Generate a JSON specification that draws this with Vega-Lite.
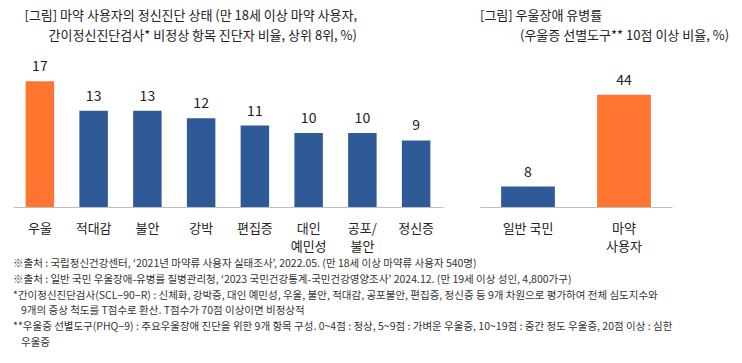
{
  "$schema": "https://vega.github.io/schema/vega-lite/v6.json",
  "padding": {"left": 13, "top": 10, "right": 5, "bottom": 5},
  "background": "#ffffff",
  "config": {
    "font": "Noto Sans CJK KR",
    "view": {"stroke": null},
    "title": {"font": "Noto Sans CJK KR", "fontSize": 13, "fontWeight": "normal", "color": "#222222", "anchor": "start", "lineHeight": 20, "offset": 16},
    "axis": {"labelFont": "Noto Sans CJK KR"}
  },
  "title": {
    "text": [
      "※출처 : 국립정신건강센터, ‘2021년 마약류 사용자 실태조사’, 2022.05. (만 18세 이상 마약류 사용자 540명)",
      "※출처 : 일반 국민 우울장애-유병률 질병관리청, ‘2023 국민건강통계-국민건강영양조사’ 2024.12. (만 19세 이상 성인, 4,800가구)",
      "*간이정신진단검사(SCL−90−R) : 신체화, 강박증, 대인 예민성, 우울, 불안, 적대감, 공포불안, 편집증, 정신증 등 9개 차원으로 평가하여 전체 심도지수와",
      "\u28009개의 증상 척도를 T점수로 환산. T점수가 70점 이상이면 비정상적",
      "**우울증 선별도구(PHQ−9) : 주요우울장애 진단을 위한 9개 항목 구성. 0~4점 : 정상, 5~9점 : 가벼운 우울증, 10~19점 : 중간 정도 우울증, 20점 이상 : 심한",
      "\u2800우울증"
    ],
    "orient": "bottom",
    "anchor": "start",
    "fontSize": 10.5,
    "lineHeight": 15.8,
    "color": "#333333",
    "offset": 6
  },
  "spacing": 37,
  "hconcat": [
    {
      "title": {"text": ["[그림] 마약 사용자의 정신진단 상태 (만 18세 이상 마약 사용자,", "간이정신진단검사* 비정상 항목 진단자 비율, 상위 8위, %)"], "align": "right", "dx": 344},
      "width": 430,
      "height": 148,
      "data": {"values": [
        {"item": "우울", "value": 17, "type": "focus"},
        {"item": "적대감", "value": 13, "type": "other"},
        {"item": "불안", "value": 13, "type": "other"},
        {"item": "강박", "value": 12, "type": "other"},
        {"item": "편집증", "value": 11, "type": "other"},
        {"item": "대인 예민성", "value": 10, "type": "other"},
        {"item": "공포/불안", "value": 10, "type": "other"},
        {"item": "정신증", "value": 9, "type": "other"}
      ]},
      "encoding": {
        "x": {"field": "item", "type": "nominal", "sort": null,
          "scale": {"paddingInner": 0.47, "paddingOuter": 0.235},
          "axis": {"title": null, "labelAngle": 0, "ticks": false, "domainColor": "#BFBFBF", "domainWidth": 1.2,
            "labelFontSize": 13, "labelColor": "#222222", "labelPadding": 15, "labelLineHeight": 18,
            "labelExpr": "datum.label == '대인 예민성' ? ['대인','예민성'] : datum.label == '공포/불안' ? ['공포/','불안'] : datum.label"}},
        "y": {"field": "value", "type": "quantitative", "scale": {"domain": [0, 20]}, "axis": null}
      },
      "layer": [
        {"mark": {"type": "bar"},
         "encoding": {"color": {"field": "type", "type": "nominal", "scale": {"domain": ["focus", "other"], "range": ["#FF7530", "#2E5B97"]}, "legend": null}}},
        {"mark": {"type": "text", "baseline": "bottom", "dy": -7, "fontSize": 14, "color": "#222222"},
         "encoding": {"text": {"field": "value", "type": "quantitative"}}}
      ]
    },
    {
      "title": {"text": ["[그림] 우울장애 유병률", "\u2800\u2800\u2800\u2800(우울증 선별도구** 10점 이상 비율, %)"]},
      "width": 192,
      "height": 148,
      "data": {"values": [
        {"item": "일반 국민", "value": 8, "type": "other"},
        {"item": "마약 사용자", "value": 44, "type": "focus"}
      ]},
      "encoding": {
        "x": {"field": "item", "type": "nominal", "sort": null,
          "scale": {"paddingInner": 0.44, "paddingOuter": 0.22},
          "axis": {"title": null, "labelAngle": 0, "ticks": false, "domainColor": "#BFBFBF", "domainWidth": 1.2,
            "labelFontSize": 13, "labelColor": "#222222", "labelPadding": 15, "labelLineHeight": 18,
            "labelExpr": "datum.label == '마약 사용자' ? ['마약','사용자'] : datum.label"}},
        "y": {"field": "value", "type": "quantitative", "scale": {"domain": [0, 58]}, "axis": null}
      },
      "layer": [
        {"mark": {"type": "bar"},
         "encoding": {"color": {"field": "type", "type": "nominal", "scale": {"domain": ["focus", "other"], "range": ["#FF7530", "#2E5B97"]}, "legend": null}}},
        {"mark": {"type": "text", "baseline": "bottom", "dy": -7, "fontSize": 14, "color": "#222222"},
         "encoding": {"text": {"field": "value", "type": "quantitative"}}}
      ]
    }
  ],
  "resolve": {"scale": {"color": "independent"}}
}
